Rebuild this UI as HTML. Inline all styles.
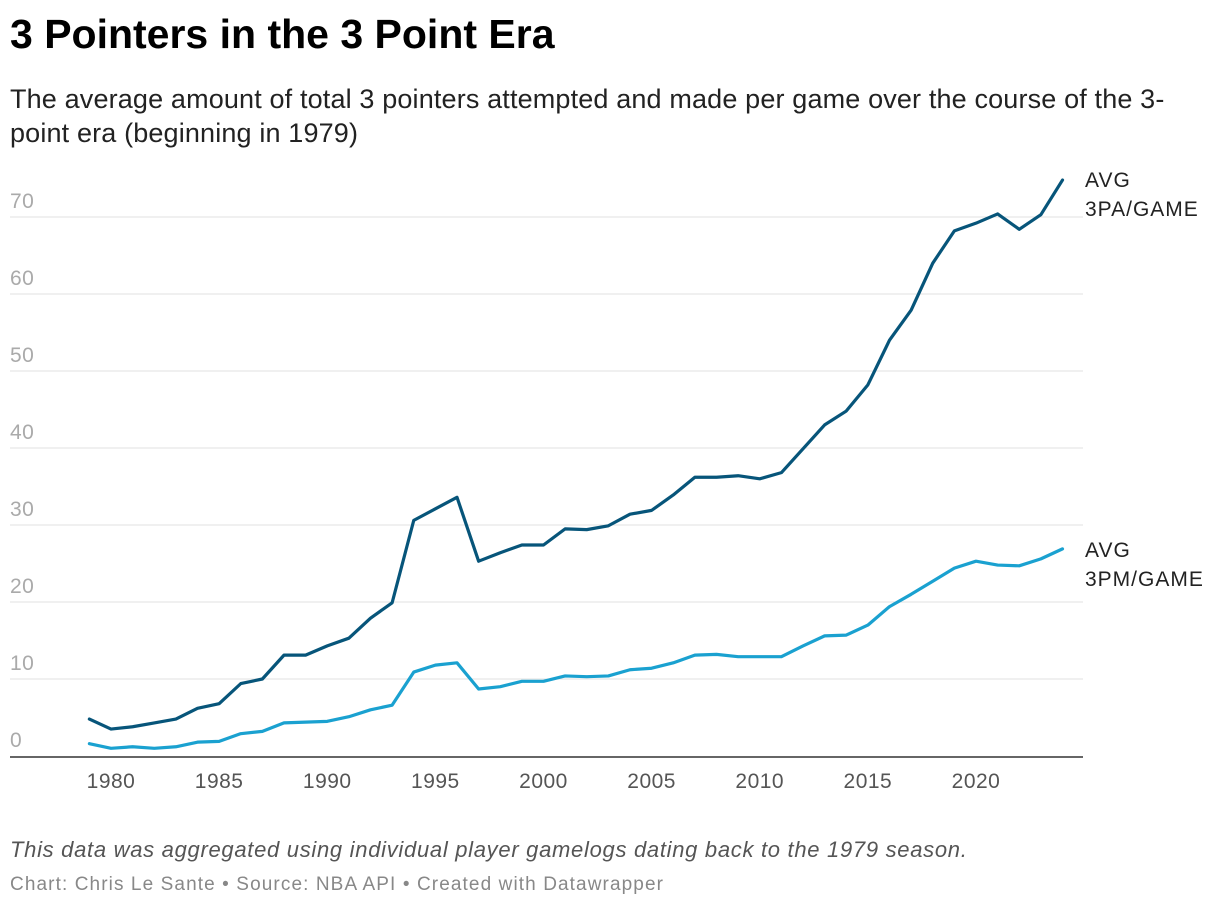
<!DOCTYPE html>
<html><head><meta charset="utf-8"><style>
body{margin:0;background:#fff;font-family:"Liberation Sans",sans-serif;}
#wrap{position:relative;width:1220px;height:910px;overflow:hidden;}
h1{position:absolute;left:10px;top:11px;margin:0;font-size:41px;font-weight:bold;color:#000;letter-spacing:0px;}
.sub{position:absolute;left:10px;top:82px;width:1195px;font-size:27px;line-height:34px;color:#222;letter-spacing:0.15px;}
.note{position:absolute;left:10px;top:837px;font-size:22px;font-style:italic;color:#555;letter-spacing:0.7px;}
.src{position:absolute;left:10px;top:874px;font-size:19px;color:#888;letter-spacing:1.1px;}
</style></head><body>
<div id="wrap">
<h1>3 Pointers in the 3 Point Era</h1>
<div class="sub">The average amount of total 3 pointers attempted and made per game over the course of the 3-point era (beginning in 1979)</div>
<svg id="chart" width="1220" height="910" style="position:absolute;left:0;top:0"></svg>
<div class="note">This data was aggregated using individual player gamelogs dating back to the 1979 season.</div>
<div class="src">Chart: Chris Le Sante • Source: NBA API • Created with Datawrapper</div>
</div>
<script>
const years=[1979,1980,1981,1982,1983,1984,1985,1986,1987,1988,1989,1990,1991,1992,1993,1994,1995,1996,1997,1998,1999,2000,2001,2002,2003,2004,2005,2006,2007,2008,2009,2010,2011,2012,2013,2014,2015,2016,2017,2018,2019,2020,2021,2022,2023,2024];
const attempts=[4.8,3.5,3.8,4.3,4.8,6.2,6.8,9.4,10.0,13.1,13.1,14.3,15.3,17.9,19.9,30.6,32.1,33.6,25.3,26.4,27.4,27.4,29.5,29.4,29.9,31.4,31.9,33.9,36.2,36.2,36.4,36.0,36.8,39.9,43.0,44.8,48.2,54.0,57.9,64.0,68.2,69.2,70.4,68.4,70.3,74.8];
const made=[1.6,1.0,1.2,1.0,1.2,1.8,1.9,2.9,3.2,4.3,4.4,4.5,5.1,6.0,6.6,10.9,11.8,12.1,8.7,9.0,9.7,9.7,10.4,10.3,10.4,11.2,11.4,12.1,13.1,13.2,12.9,12.9,12.9,14.3,15.6,15.7,17.0,19.4,21.0,22.7,24.4,25.3,24.8,24.7,25.6,26.9];
const yTicks=[0,10,20,30,40,50,60,70];
const xTicks=[1980,1985,1990,1995,2000,2005,2010,2015,2020];
const NS="http://www.w3.org/2000/svg";
const svg=document.getElementById('chart');
const X=y=>111+(y-1980)*21.625;
const Y=v=>756-v*7.7;
function mk(t,a){const e=document.createElementNS(NS,t);for(const k in a)e.setAttribute(k,a[k]);svg.appendChild(e);return e;}
yTicks.forEach(v=>{
  if(v>0){const l=mk('line',{x1:10,x2:1083,y1:Y(v),y2:Y(v),stroke:'#e2e2e2','stroke-width':1});
  
  }
  const t=mk('text',{x:10,y:Y(v)-9,'font-size':21,fill:'#aaa','letter-spacing':0.5,'font-family':'Liberation Sans, sans-serif'});
  t.textContent=v;
  
  
});
const ax=mk('line',{x1:10,x2:1083,y1:757,y2:757,stroke:'#333','stroke-width':1.5});


xTicks.forEach(y=>{
  const t=mk('text',{x:X(y),y:788,'font-size':21,fill:'#555','text-anchor':'middle','letter-spacing':0.5,'font-family':'Liberation Sans, sans-serif'});
  t.textContent=y;
  
  
});
function line(vals,color,name){
  const p=mk('polyline',{points:years.map((y,i)=>X(y)+','+Y(vals[i])).join(' '),fill:'none',stroke:color,'stroke-width':3.2,'stroke-linejoin':'round','stroke-linecap':'round'});
  
  
}
line(made,'#1aa1d0','line-3pm');
line(attempts,'#07557a','line-3pa');
function lab(lines,y0,name){
  lines.forEach((s,i)=>{const t=mk('text',{x:1085,y:y0+i*29,'font-size':21,fill:'#222','letter-spacing':1,'font-family':'Liberation Sans, sans-serif'});
  t.textContent=s;
  
  });
}
lab(['AVG','3PA/GAME'],187,'label-3pa');
lab(['AVG','3PM/GAME'],557,'label-3pm');
</script>
</body></html>
